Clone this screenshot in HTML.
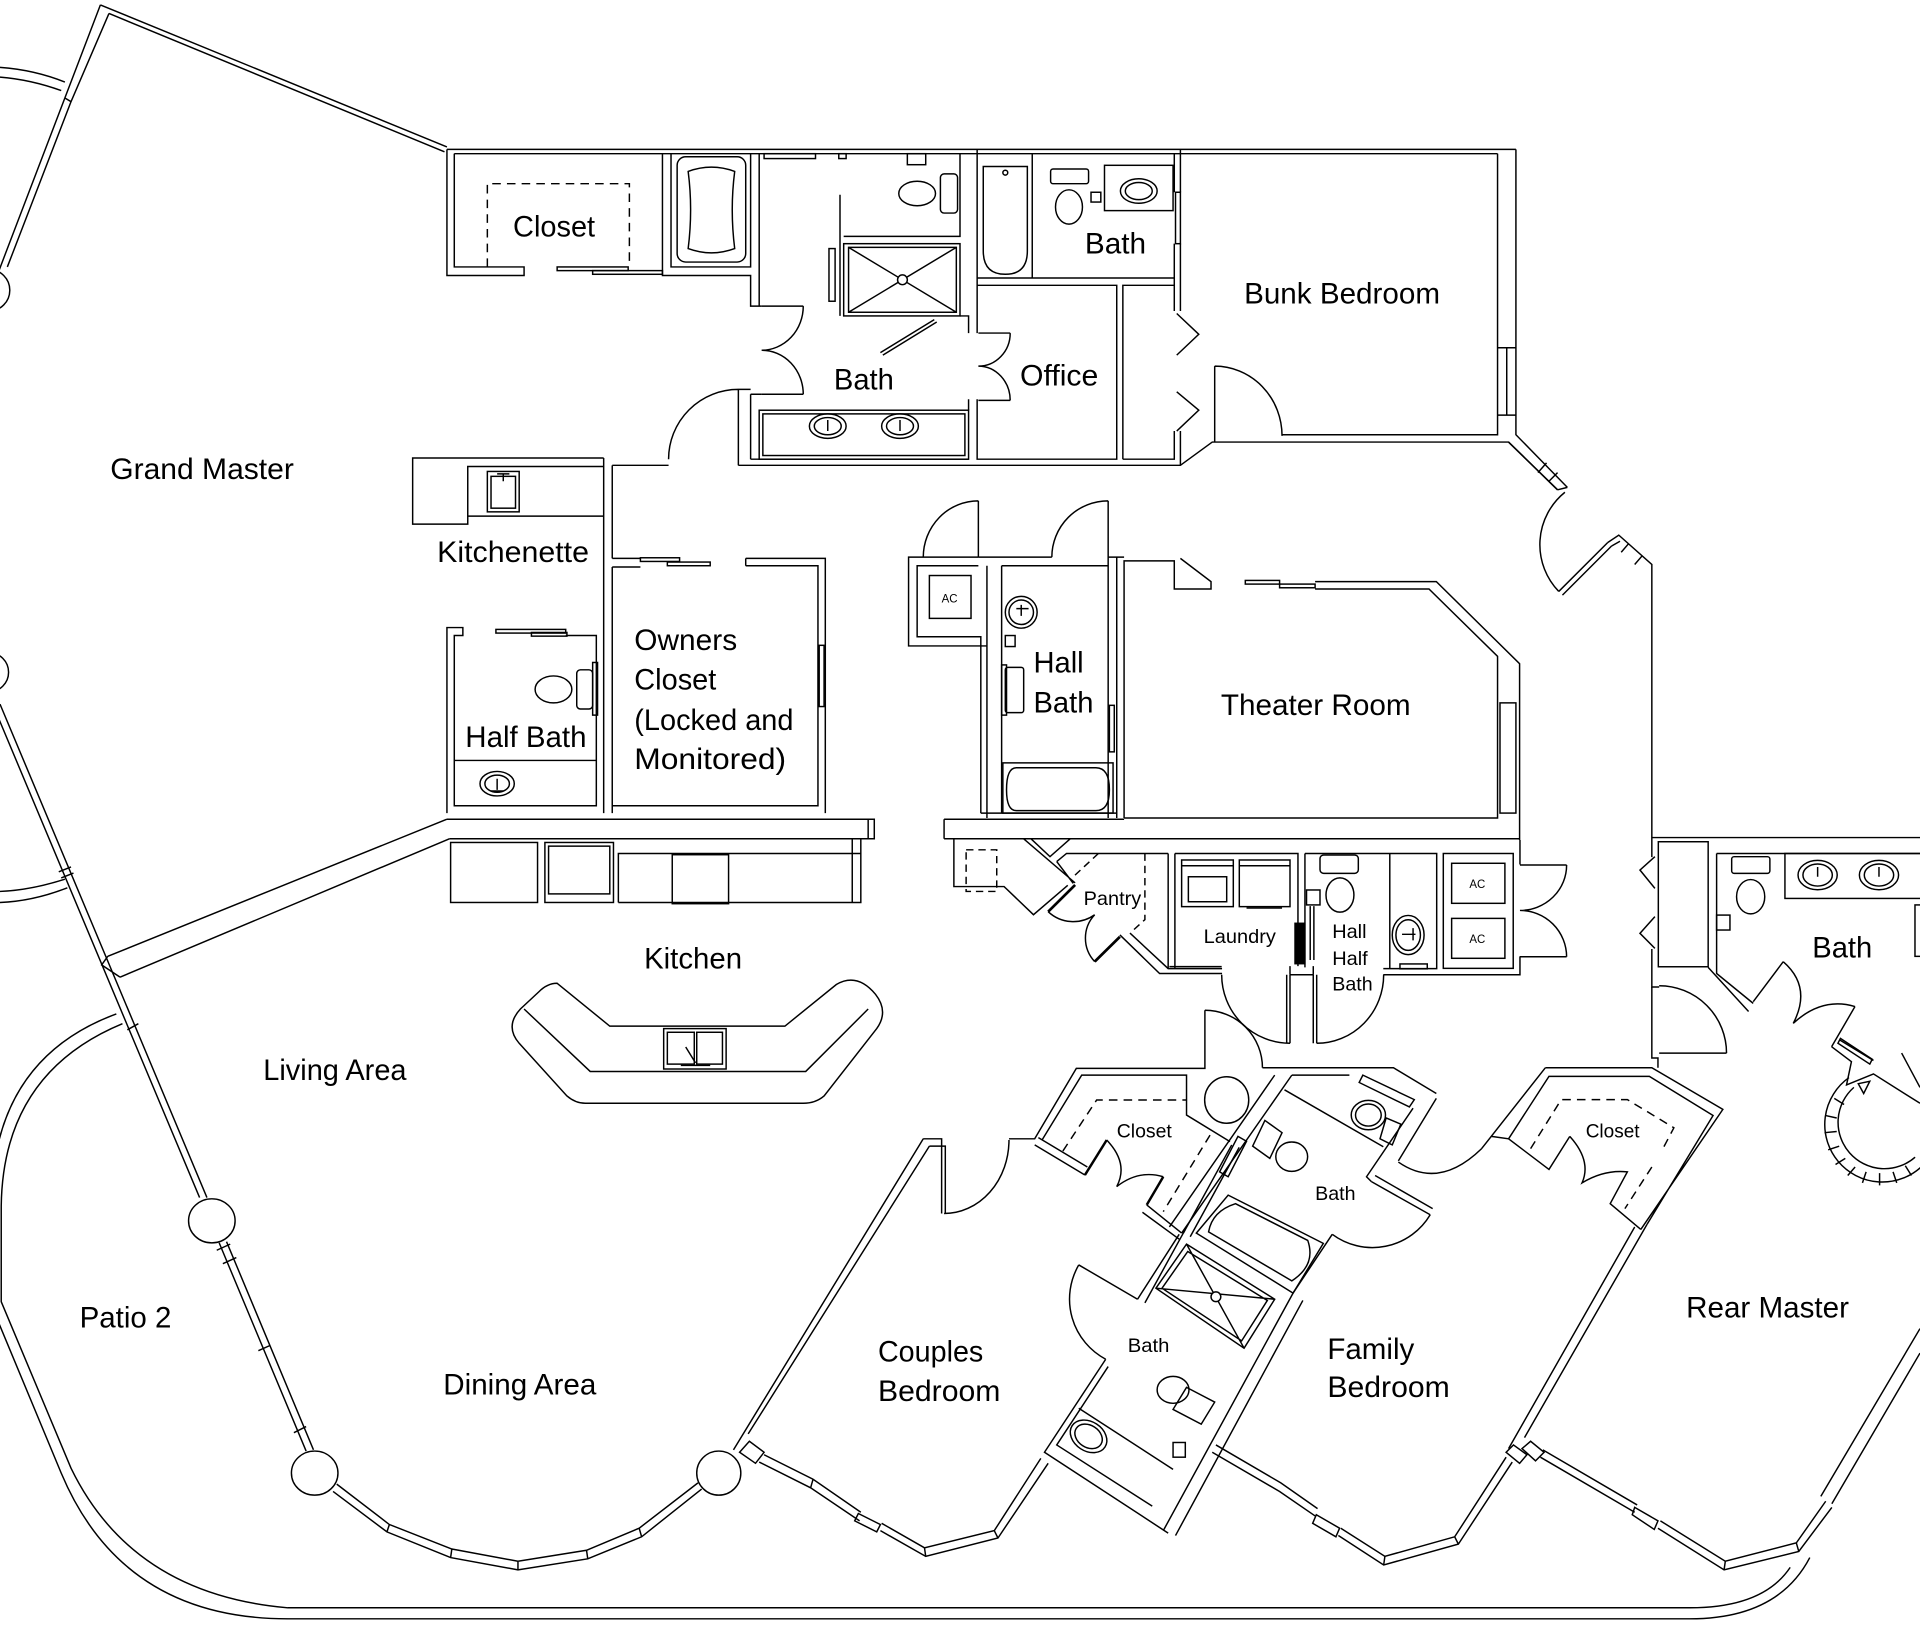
<!DOCTYPE html>
<html><head><meta charset="utf-8">
<style>
html,body{margin:0;padding:0;background:#fff;}
svg{display:block}
text{font-family:"Liberation Sans",sans-serif;fill:#000;stroke:none}
</style></head>
<body>
<svg width="1920" height="1628" viewBox="0 0 1568 1329.5" preserveAspectRatio="none" xmlns="http://www.w3.org/2000/svg">
<rect x="0" y="0" width="1568" height="1330" fill="#fff"/>
<g fill="none" stroke="#000" stroke-width="1.2">
<!-- ===== WEST: Grand Master / patio ===== -->
<path d="M82,4 L365,120 M89,11 L363,124"/>
<path d="M82,4 L-2,224 M89,11 L58,83 L53,80 M58,83 L6,218"/>
<path d="M0,55 Q28,57 53,67 M0,63 Q25,65 50,74"/>
<circle cx="-9" cy="237" r="17"/>
<circle cx="-9" cy="549" r="16"/>
<path d="M-6,575 L163,978 M0,575 L169,978 M48,712 L58,708 M50,717 L60,713 M104,841 L113,836"/>
<path d="M0,728 Q25,727 53,718 M0,737 Q27,736 55,725"/>
<path d="M88,781 L365,669 M98,798 L367,685 M88,781 L83,788 L98,798"/>
<ellipse cx="173" cy="997" rx="19" ry="18"/>
<path d="M179,1015 L250,1185 M185,1014 L256,1184 M177,1021 L188,1016 M182,1032 L193,1027 M211,1103 L220,1099 M240,1170 L250,1165"/>
<ellipse cx="257" cy="1203" rx="19" ry="18"/>
<path d="M272,1218 L316,1251 L368,1272 L423,1282 L480,1273 L524,1255 L573,1216 M275,1212 L318,1245 L369,1265 L423,1275 L479,1266 L522,1248 L570,1211 M316,1251 L318,1245 M368,1272 L369,1265 M423,1282 L423,1275 M480,1273 L479,1266 M524,1255 L522,1248"/>
<ellipse cx="587" cy="1203" rx="18" ry="18"/>
<!-- patio outer boundary -->
<path d="M100,836 C42,860 2,905 1,985 L1,1063 L58,1199 Q108,1302 235,1313 L1380,1313 Q1440,1313 1462,1280"/>
<path d="M95,828 C30,852 -7,902 -7,985 L-7,1066 L50,1203 Q100,1322 235,1322 L1380,1322 Q1452,1322 1478,1272"/>

<!-- ===== TOP CENTER BLOCK ===== -->
<path d="M365,122 H1238 M371,125.5 H1223"/>
<path d="M365,122 V225 H428 V218 H371 V125.5"/>
<path d="M398,218 V150 H514 V218" stroke-dasharray="7,5"/>
<rect x="455" y="218" width="58" height="3"/>
<rect x="484" y="221" width="57" height="3"/>
<path d="M541,125 V225 H613 V250 H622 M548,125 V218 H613 V125 M620,125.5 V250"/>
<rect x="553" y="128" width="56" height="86" rx="7"/>
<path d="M562,140 Q581,133 600,140 Q596,171 600,203 Q581,210 562,203 Q566,171 562,140 Z"/>
<path d="M622,250 H656 M622,322 H656 M656,250 A34,36 0 0,1 622,286 M656,322 A34,36 0 0,0 622,286"/>
<path d="M613,322 H622 M613,322 V375"/>
<path d="M603,318 H613 M603,318 V380 M603,318 A57,57 0 0,0 546,375"/>
<path d="M603,380 H964 L990,361 H1232 L1272,400 M613,375 H791"/>
<rect x="620" y="335" width="171" height="40"/>
<rect x="623" y="338" width="165" height="34"/>
<ellipse cx="676" cy="348" rx="15" ry="10"/><ellipse cx="676" cy="348" rx="11" ry="7"/>
<ellipse cx="735" cy="348" rx="15" ry="10"/><ellipse cx="735" cy="348" rx="11" ry="7"/>
<path d="M676,343 V352 M735,343 V352"/>
<path d="M689,193 H784 V125.5 M686,159 V258"/>
<rect x="677" y="203" width="5" height="43"/>
<rect x="624" y="125.5" width="42" height="4"/>
<rect x="685" y="125.5" width="6" height="4"/>
<rect x="741" y="125.5" width="15" height="9"/>
<ellipse cx="749" cy="158" rx="15" ry="10"/>
<rect x="768" y="142" width="14" height="32" rx="3"/>
<rect x="689" y="199" width="95" height="59"/>
<rect x="693" y="202" width="88" height="53"/>
<path d="M693,202 L781,255 M781,202 L693,255"/>
<circle cx="737" cy="228.5" r="4" fill="#fff"/>
<path d="M719,288 L763,261 M721,290 L765,263"/>
<path d="M784,258 H791 V272 M791,326 V335"/>
<path d="M798,122 V272 M798,326 V375 H912 V233 H798 M917,375 V233 H959"/>
<path d="M799,272 H825 M799,327 H825 M825,272 A26,27 0 0,1 799,299 M825,327 A26,28 0 0,0 799,299"/>
<path d="M798,227 H959 M843,125.5 V227"/>
<path d="M803,136 H839 V205 Q839,224 821,224 Q803,224 803,205 Z"/>
<circle cx="821" cy="141" r="2"/>
<rect x="858" y="138" width="31" height="12" rx="2"/>
<ellipse cx="873" cy="169" rx="11" ry="14"/>
<rect x="891" y="157" width="8" height="8"/>
<rect x="902" y="135" width="56" height="37"/>
<ellipse cx="930" cy="156" rx="15" ry="10"/><ellipse cx="930" cy="156" rx="11" ry="7"/>
<rect x="960" y="157" width="4" height="42"/>
<path d="M959,125.5 V157 M959,199 V254 M964,122 V157 M964,199 V254"/>
<path d="M961,256 L979,273 L961,290 M961,320 L979,335 L961,352"/>
<path d="M959,352 V375 H917 M964,352 V380"/>
<path d="M992,361 V299 M992,299 A55,57 0 0,1 1047,356"/>
<path d="M1047,355 H1223 V125.5 M1238,122 V355 L1280,398 M1232,361 L1272,400"/>
<path d="M1223,284 H1238 M1223,339 H1238 M1230.5,284 V339"/>
<path d="M1263,378 L1256,386 M1272,386 L1265,393 M1280,398 L1272,400"/>
<path d="M1273,483 L1313,443 M1276,486 L1316,446 M1278,402 A55,55 0 0,0 1273,483"/>
<path d="M1313,443 L1322,437 L1349,461 V688 M1316,446 L1323,442 M1330,444 L1324,451 M1341,454 L1335,461"/>

<!-- ===== KITCHENETTE / HALF BATH / OWNERS ===== -->
<path d="M493,374 H337 V428 H382 V381 H493 M382,421.5 H493"/>
<rect x="398" y="385" width="26" height="33"/>
<rect x="401" y="389" width="20" height="26"/>
<path d="M406,387 H416 M411,387 V393"/>
<path d="M493,374 V512 M500,380 H546 M500,380 V456 M500,463 V664 M500,456 H523 M500,463 H523"/>
<rect x="523" y="455.5" width="32" height="3"/>
<rect x="545" y="459" width="35" height="3"/>
<path d="M609,456 H674 V664 M609,462 H668 V658 H500 M609,456 V462"/>
<rect x="669" y="527" width="4" height="50"/>
<path d="M365,664 V512.5 H378 V519 H371 V658 H487 V519 H462 M493,512 V664"/>
<rect x="405" y="514" width="57" height="3"/>
<rect x="434" y="516.5" width="29" height="3"/>
<path d="M371,621 H487"/>
<ellipse cx="406" cy="640" rx="14" ry="10"/><ellipse cx="406" cy="640" rx="10" ry="7"/>
<path d="M406,636 V645 M401,646 H411"/>
<ellipse cx="452" cy="563" rx="15" ry="11"/>
<rect x="471" y="547" width="13" height="32" rx="3"/>
<rect x="484" y="541" width="4" height="43"/>

<!-- ===== KITCHEN ===== -->
<path d="M365,669 H714 V685 H367 M709,669 V685"/>
<rect x="368" y="688" width="71" height="49"/>
<rect x="445" y="688" width="56" height="49"/>
<rect x="448" y="691" width="50" height="39"/>
<path d="M505,737 V697 H703 M505,737 H703 V685 M696,685 V737"/>
<rect x="549" y="698" width="46" height="40"/>
<path d="M455,803 L498,838 L641,838 L683,804 Q700,794 715,812 Q726,826 716,840 L673,895 Q666,901 656,901 L478,901 Q470,901 463,895 L424,852 Q412,838 425,824 L440,810 Q447,803 455,803 Z"/>
<path d="M428,824 L482,875 H658 L709,824"/>
<rect x="542" y="840" width="51" height="33"/>
<rect x="545" y="843" width="22" height="26"/>
<rect x="569" y="843" width="21" height="26"/>
<path d="M560,855 L568,868 M556,870 H580"/>

<!-- ===== AC / HALL BATH / THEATER ===== -->
<path d="M799,455 H742 V527.5 H806 M799,462 H749 V520 H801 V664"/>
<rect x="759" y="470" width="34" height="35"/>
<path d="M799,455 V409 M754,455 A45,46 0 0,1 799,409"/>
<path d="M799,455 H859 M806,462 V668 M818,462 V664 M818,462 H905"/>
<path d="M905,409 V668 M859,455 A46,46 0 0,1 905,409 M905,455 H918 M912,455 V668"/>
<circle cx="834" cy="500" r="13"/><circle cx="834" cy="500" r="10"/>
<path d="M830,497 H840 M834,494 V503"/>
<rect x="821" y="519" width="8" height="9"/>
<rect x="821" y="545" width="15" height="37" rx="2"/>
<rect x="818" y="543" width="4" height="41"/>
<rect x="906" y="576" width="4" height="38"/>
<rect x="819" y="623" width="90" height="41"/>
<path d="M830,627 H895 Q906,627 906,645 Q906,662 895,662 H830 Q822,662 822,645 Q822,627 830,627 Z"/>
<path d="M918,668 V458 H959 V481 H989 V475 L964,456"/>
<rect x="1017" y="474" width="28" height="3"/>
<rect x="1045" y="477" width="29" height="3"/>
<path d="M1074,475 H1173 L1241,542 V686 M1074,481 H1167 L1223,536 V668 H918"/>
<rect x="1225" y="574" width="13" height="90"/>
<path d="M771,669 H918 M771,685 H1241 M771,669 V685 M801,664 H912"/>

<!-- ===== PANTRY ===== -->
<path d="M779,685 V724 H820 L844,747 L872,723"/>
<rect x="789" y="694" width="25" height="34" stroke-dasharray="6,4"/>
<path d="M836,685 L878,721 M842,685 L857.5,699.6 L874,685 M863,703.6 L871,697 H954 M863,703.6 L876.5,721.4"/>
<path d="M878,722.7 L856,744.5" stroke-width="2.2"/>
<path d="M856,744.5 A30,30 0 0,0 894,747 M894,747 A28,28 0 0,0 894,785.3"/>
<path d="M894,785.3 L914.6,765" stroke-width="2.2"/>
<path d="M914.6,763.5 L947,795 H998 M922.8,762 L954,791 H998"/>
<path d="M954,697 V791 M959.5,697 V791"/>
<path d="M935,697 V751 L924,761 M897,697 L876.5,716" stroke-dasharray="6,4"/>

<!-- ===== LAUNDRY / HALF BATH / AC ===== -->
<path d="M959.5,697 H1060 V789 M1065.7,697 V790 M955,789.4 H997.7"/>
<rect x="1057.6" y="754" width="8" height="33" fill="#000"/>
<rect x="965" y="702.3" width="42.2" height="38.1"/>
<rect x="970.5" y="716" width="31.3" height="20.4"/>
<path d="M965,707 H1007 M1012,707 H1053.5"/>
<rect x="1012.1" y="702.3" width="41.4" height="38.1"/>
<path d="M1018,741.5 H1047"/>
<path d="M1050.8,796 V852 M1053.5,796 V852 M997.7,796 A55.8,56 0 0,0 1053.5,852"/>
<path d="M1053.5,796 H1072.5 M1053.5,789 V796 M1072.5,789 V796"/>
<path d="M1072.5,796 V852 M1075.3,796 V852 M1130,796 A54.7,56 0 0,1 1075.3,852"/>
<path d="M1065.7,697 H1135 V791 M1135,697 H1173.3 V791 H1129.7 M1129.7,796 H1241.3 V781 M1241.3,686 V706"/>
<rect x="1078" y="698.2" width="31.3" height="15" rx="3"/>
<ellipse cx="1094.3" cy="730.9" rx="11.4" ry="14"/>
<rect x="1067" y="726.8" width="11" height="12.2"/>
<path d="M1070,740 V784 M1073,740 V784"/>
<ellipse cx="1150" cy="763.6" rx="13" ry="16"/><ellipse cx="1150" cy="763.6" rx="10" ry="12.5"/>
<path d="M1145,763 H1156 M1154,758 V768"/>
<rect x="1143.3" y="787.2" width="22.3" height="4"/>
<rect x="1178.7" y="697" width="57.1" height="93.8"/>
<rect x="1185.5" y="705" width="43.5" height="32.7"/>
<rect x="1185.5" y="750" width="43.5" height="32.6"/>
<path d="M1241.3,706.4 H1279.4 M1241.3,781.3 H1279.4 M1279.4,706.4 A38,37 0 0,1 1241.3,743.5 M1279.4,781.3 A38,38 0 0,0 1241.3,743.5"/>

<!-- ===== REAR BATH (right) ===== -->
<path d="M1349,684 H1568 M1349,688 V700 M1349,775 V806 H1355"/>
<rect x="1354.3" y="687.4" width="40.7" height="102.1"/>
<path d="M1351.5,699.6 L1339.3,710.5 L1351.5,725.5 M1351.5,748.6 L1339.3,762.2 L1351.5,774.5"/>
<path d="M1401.9,697 H1568 M1401.9,697 V795 L1431.8,819.4 M1395,790 L1428,826"/>
<path d="M1431.8,818 L1456.3,785.4 M1514.9,822 L1495.8,854.8 M1456.3,785.4 Q1480,806 1464.5,835.7 Q1488,814 1514.9,822"/>
<path d="M1495.8,854.8 L1512,867 L1508,886 L1530,877 L1568,901 M1502,849 L1530,866"/>
<path d="M1503,848 L1529,865 L1527,869 L1501,852 Z"/>
<path d="M1517.6,885 L1527,883 L1522,893 Z"/>
<rect x="1414.2" y="699.6" width="31.2" height="13.6" rx="2"/>
<ellipse cx="1429.7" cy="732.3" rx="11.5" ry="14"/>
<rect x="1401.9" y="747.3" width="10.9" height="12.2"/>
<rect x="1457.7" y="697" width="112" height="36.7"/>
<ellipse cx="1484.4" cy="714.6" rx="16" ry="12"/><ellipse cx="1484.4" cy="714.6" rx="12" ry="9"/>
<ellipse cx="1534.5" cy="714.6" rx="16" ry="12"/><ellipse cx="1534.5" cy="714.6" rx="12" ry="9"/>
<path d="M1484.4,708 V716 M1534.5,708 V716"/>
<rect x="1563.9" y="739" width="6" height="42"/>
<!-- round shower -->
<path d="M1510,880 A47,47 0 1,0 1570,952 M1514,888 A37,37 0 1,0 1564,945"/>
<path d="M1498,897 L1506,902 M1491,911 L1500,913 M1490,925 L1500,924 M1493,939 L1502,936 M1499,951 L1507,946 M1509,960 L1515,953 M1521,966 L1524,957 M1535,968 L1535,958 M1549,966 L1546,957 M1561,960 L1556,952 M1553,860 L1568,888"/>
<path d="M1355,860 H1410 M1410,860 A55,55 0 0,0 1355,805 M1349,806 V864 H1354 V872"/>

<!-- ===== COUPLES BEDROOM / CLOSET / BATH ===== -->
<path d="M754,930 L599,1184 M759,936 L611,1171 M754,930 H769 V991 M759,936 H772 V991"/>
<path d="M771,991 A53,60 0 0,0 824,931"/>
<path d="M604,1186 L612,1177 L624,1186 L617,1195 Z"/>
<path d="M620,1194 L662,1215 L702,1242 M719,1250 L756,1271 L815,1256 L856,1195 M624,1188 L664,1208 L703,1235 M720,1244 L755,1264 L812,1250 L850,1191"/>
<path d="M701,1236 L719,1245 L716,1251 L698,1242 Z M662,1215 L664,1208 M756,1271 L755,1264 M815,1256 L812,1250"/>
<path d="M824,930 H845 L879,872.5 H984 V825 M851,931 L883.4,878 H969 V910.6 L1004.5,932.3"/>
<path d="M984,825 A47,47 0 0,1 1031,872 M1031,872 H1138 L1173,893"/>
<ellipse cx="1001.8" cy="898.3" rx="18" ry="19"/>
<path d="M845,935 L886,959.6 M848,929 L888,953"/>
<path d="M886,959.6 L903.8,931" stroke-width="2"/>
<path d="M903.8,931 Q922,950 912,969 Q930,955 950,961"/>
<path d="M950,961 L936.5,984" stroke-width="2"/>
<path d="M936.5,984 L965,1007 M933,990 L963,1012 M1005.9,935 L966.4,1007 M1012,937 L972,1010"/>
<path d="M868,940 L895.6,898.3 H969 M988.2,927 L950,989.5" stroke-dasharray="7,5"/>
<path d="M929,1061 L881,1033 M881,1033 A55.5,55.5 0 0,0 903,1110 M929,1061 L963,1008 M935,1064 L968,1004"/>
<path d="M903,1110 L853,1186 L954,1252 M905,1116 L863,1180 L941,1230"/>
<path d="M881,1150 L958,1200"/>
<ellipse cx="889" cy="1173" rx="16" ry="12" transform="rotate(33 889 1173)"/>
<ellipse cx="889" cy="1173" rx="12" ry="9" transform="rotate(33 889 1173)"/>
<ellipse cx="958" cy="1135" rx="13" ry="11"/>
<path d="M969,1133 L992,1145 L981,1163 L958,1151 Z"/>
<rect x="958" y="1178" width="10" height="12"/>
<path d="M944,1052 L969,1016 L1041,1061 L1016,1101 Z M949,1052 L970,1022 L1035,1062 L1014,1095 Z M969,1016 L1016,1101 M944,1052 L1041,1061"/>
<circle cx="993" cy="1059" r="4" fill="#fff"/>
<path d="M950,1250 L1056,1056 M960,1254 L1064,1062"/>
<path d="M990,1186 L1045,1218 L1074,1238 M1093,1254 L1130,1278 L1191,1261 L1235,1194 M993,1180 L1046,1211 L1076,1232 M1095,1248 L1131,1271 L1188,1255 L1230,1190"/>
<path d="M1075,1237 L1094,1248 L1091,1255 L1072,1244 Z M1230,1186 L1236,1180 L1247,1188 L1241,1195 Z M1130,1278 L1131,1271 M1191,1261 L1188,1255"/>

<!-- ===== FAMILY BATH ===== -->
<path d="M1041,878 L955,1002 M1055,878 L965,1007"/>
<path d="M1055,878 H1102 M1049,890 L1129.7,936.5"/>
<path d="M1113,878 L1155,898 L1151,904 L1110,884 Z"/>
<ellipse cx="1117.5" cy="910.6" rx="14" ry="12"/>
<ellipse cx="1117.5" cy="910.6" rx="10.5" ry="9"/>
<path d="M1132,913 L1144,918 L1137,935 L1127,930 Z"/>
<path d="M1033,915 L1047,925 L1037,946 L1023,936 Z"/>
<ellipse cx="1054.9" cy="944.6" rx="13" ry="12"/>
<path d="M1011,928 L1018,932 L1003,961 L996,957 Z"/>
<path d="M1003,976 L1080.7,1015.4 L1056,1056 L977,1007 Z M1009,983 L1068,1013 Q1075,1033 1055,1046 L987,1006 Q990,989 1009,983 Z"/>
<path d="M1173,897 L1142,948 M1154,905 L1116,961 L1120,965"/>
<path d="M1120,965 L1168,992 M1123,960 L1170,987"/>
<path d="M1168,992 A55,55 0 0,1 1088,1008"/>
<path d="M1088,1008 L1056,1056"/>
<path d="M1142,949 Q1175,972 1210,938 M1210,938 L1262,872 M1218,928 L1232,930 L1265,955 L1282,928"/>
<path d="M1282,928 Q1300,948 1292,966 Q1310,955 1329,957 L1315,983 L1340,1004"/>
<path d="M1262,872 H1349 L1407,906 L1340,1004 M1232,930 L1265,879 H1347 L1399,911 L1345,1000"/>
<path d="M1250,938 L1275,898 H1329 L1367,921 L1357,940 M1349,953 L1327,987" stroke-dasharray="7,5"/>
<path d="M1345,1000 L1245,1174 M1335,1002 L1232,1183"/>
<path d="M1243,1183 L1250,1177 L1261,1186 L1254,1193 Z"/>
<path d="M1258,1190 L1335,1235 M1354,1248 L1408,1282 L1469,1267 L1496,1231 M1260,1184 L1337,1229 M1356,1242 L1409,1275 L1467,1260 L1491,1226"/>
<path d="M1335,1231 L1354,1242 L1351,1249 L1333,1237 Z M1408,1282 L1409,1275 M1469,1267 L1467,1260"/>
<path d="M1487,1222 L1568,1085 M1496,1228 L1568,1105"/>
</g>

<!-- ===== LABELS ===== -->
<g font-size="24">
<text x="90" y="391" textLength="150" lengthAdjust="spacingAndGlyphs">Grand Master</text>
<text x="419" y="193" textLength="67" lengthAdjust="spacingAndGlyphs">Closet</text>
<text x="681" y="318" textLength="49" lengthAdjust="spacingAndGlyphs">Bath</text>
<text x="886" y="207" textLength="50" lengthAdjust="spacingAndGlyphs">Bath</text>
<text x="833" y="315" textLength="64" lengthAdjust="spacingAndGlyphs">Office</text>
<text x="1016" y="248" textLength="160" lengthAdjust="spacingAndGlyphs">Bunk Bedroom</text>
<text x="357" y="459" textLength="124" lengthAdjust="spacingAndGlyphs">Kitchenette</text>
<text x="518" y="531" textLength="84" lengthAdjust="spacingAndGlyphs">Owners</text>
<text x="518" y="563" textLength="67" lengthAdjust="spacingAndGlyphs">Closet</text>
<text x="518" y="596" textLength="130" lengthAdjust="spacingAndGlyphs">(Locked and</text>
<text x="518" y="628" textLength="124" lengthAdjust="spacingAndGlyphs">Monitored)</text>
<text x="380" y="610" textLength="99" lengthAdjust="spacingAndGlyphs">Half Bath</text>
<text x="844" y="549" textLength="41" lengthAdjust="spacingAndGlyphs">Hall</text>
<text x="844" y="582" textLength="49" lengthAdjust="spacingAndGlyphs">Bath</text>
<text x="997" y="584" textLength="155" lengthAdjust="spacingAndGlyphs">Theater Room</text>
<text x="526" y="791" textLength="80" lengthAdjust="spacingAndGlyphs">Kitchen</text>
<text x="215" y="882" textLength="117" lengthAdjust="spacingAndGlyphs">Living Area</text>
<text x="65" y="1084" textLength="75" lengthAdjust="spacingAndGlyphs">Patio 2</text>
<text x="362" y="1139" textLength="125" lengthAdjust="spacingAndGlyphs">Dining Area</text>
<text x="717" y="1112" textLength="86" lengthAdjust="spacingAndGlyphs">Couples</text>
<text x="717" y="1144" textLength="100" lengthAdjust="spacingAndGlyphs">Bedroom</text>
<text x="1084" y="1110" textLength="71" lengthAdjust="spacingAndGlyphs">Family</text>
<text x="1084" y="1141" textLength="100" lengthAdjust="spacingAndGlyphs">Bedroom</text>
<text x="1377" y="1076" textLength="133" lengthAdjust="spacingAndGlyphs">Rear Master</text>
<text x="1480" y="782" textLength="49" lengthAdjust="spacingAndGlyphs">Bath</text>
</g>
<g font-size="16">
<text x="885" y="739" textLength="47" lengthAdjust="spacingAndGlyphs">Pantry</text>
<text x="983" y="770" textLength="59" lengthAdjust="spacingAndGlyphs">Laundry</text>
<text x="1088" y="766" textLength="28" lengthAdjust="spacingAndGlyphs">Hall</text>
<text x="1088" y="788" textLength="29" lengthAdjust="spacingAndGlyphs">Half</text>
<text x="1088" y="809" textLength="33" lengthAdjust="spacingAndGlyphs">Bath</text>
<text x="912" y="929" textLength="45" lengthAdjust="spacingAndGlyphs">Closet</text>
<text x="921" y="1104" textLength="34" lengthAdjust="spacingAndGlyphs">Bath</text>
<text x="1074" y="980" textLength="33" lengthAdjust="spacingAndGlyphs">Bath</text>
<text x="1295" y="929" textLength="44" lengthAdjust="spacingAndGlyphs">Closet</text>
</g>
<g font-size="10">
<text x="769" y="492" textLength="13" lengthAdjust="spacingAndGlyphs">AC</text>
<text x="1200" y="725" textLength="13" lengthAdjust="spacingAndGlyphs">AC</text>
<text x="1200" y="770" textLength="13" lengthAdjust="spacingAndGlyphs">AC</text>
</g>
</svg>
</body></html>
